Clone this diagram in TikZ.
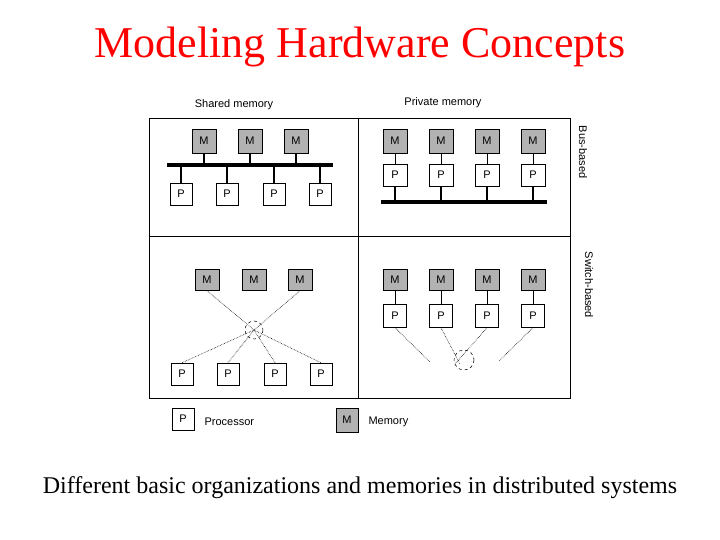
\documentclass[tikz,border=0pt]{standalone}
\usepackage{fontspec}
\setmainfont{Liberation Serif}
\newfontfamily\arial{Liberation Sans}
\begin{document}
\begin{tikzpicture}[x=1pt,y=-1pt,
  mbox/.style={draw=black,fill=gray!60,minimum width=24pt,minimum height=24pt,inner sep=0pt,font=\arial\fontsize{11}{11}\selectfont},
  pbox/.style={draw=black,fill=white,minimum width=22pt,minimum height=22pt,inner sep=0pt,font=\arial\fontsize{11}{11}\selectfont},
  lab/.style={font=\arial\fontsize{11}{11}\selectfont},
  bus/.style={line width=3.5pt},
  thin/.style={line width=0.6pt},
  dot/.style={densely dotted,line width=0.6pt}]
\useasboundingbox (0,0) rectangle (720,540);
\node[text=red,font=\fontsize{44}{44}\selectfont] (title) at (360,47) {Modeling Hardware Concepts};
\node[font=\fontsize{24}{24}\selectfont] (cap) at (360,488) {Different basic organizations and memories in distributed systems};
% frame
\draw[thin] (149,118) rectangle (570,398);
\draw[thin] (358,118) -- (358,398);
\draw[thin] (149,236) -- (570,236);
\node[lab] (sh) at (234,105) {Shared memory};
\node[lab] (pr) at (443,103) {Private memory};
\node[lab,rotate=-90] (bb) at (583,152) {Bus-based};
\node[lab,rotate=-90] (sb) at (589,285) {Switch-based};
% top-left
\coordinate (busL) at (167,165); \coordinate (busR) at (333,165);
\draw[bus] (busL) -- (busR);
\foreach \i/\x in {1/204,2/250,3/296}{
  \node[mbox] (tlm\i) at (\x,141) {M};
  \draw[bus,line width=2.5pt] (tlm\i.south) -- (\x,165);}
\foreach \i/\x in {1/181,2/227,3/274,4/320}{
  \node[pbox] (tlp\i) at (\x,194) {P};
  \draw[bus,line width=2.5pt] (tlp\i.north) -- (\x,165);}
% top-right
\draw[bus] (381,202) -- (547,202);
\foreach \i/\x in {1/395,2/441,3/487,4/533}{
  \node[mbox] (trm\i) at (\x,141) {M};
  \node[pbox,minimum width=24pt] (trp\i) at (\x,175) {P};
  \draw[thin] (trm\i.south) -- (trp\i.north);
  \draw[bus,line width=2.5pt] (trp\i.south) -- (\x,202);}
% bottom-left
\foreach \i/\x in {1/207,2/254,3/300}{\node[mbox,minimum height=21pt] (blm\i) at (\x,280) {M};}
\foreach \i/\x in {1/182,2/228,3/275,4/321}{\node[pbox] (blp\i) at (\x,374) {P};}
\coordinate (cx) at (254,330);
\draw[dot] (blm1.south) -- (cx); \draw[dot] (blm3.south) -- (cx);
\foreach \i in {1,...,4}{\draw[dot] (cx) -- (blp\i.north);}
\draw[dashed,line width=0.5pt] (cx) circle (9);
% bottom-right
\foreach \i/\x in {1/395,2/441,3/487,4/533}{
  \node[mbox,minimum height=21pt] (brm\i) at (\x,280) {M};
  \node[pbox,minimum width=23pt,minimum height=23pt] (brp\i) at (\x,316) {P};
  \draw[thin] (brm\i.south) -- (brp\i.north);}
\coordinate (s1) at (430,362); \coordinate (s2) at (460,364);
\coordinate (s3) at (455,364); \coordinate (s4) at (499,361);
\draw[dot] (brp1.south) -- (s1); \draw[dot] (brp2.south) -- (s2);
\draw[dot] (brp3.south) -- (s3); \draw[dot] (brp4.south) -- (s4);
\draw[dashed,line width=0.5pt] (464,360) circle (10);
% legend
\node[pbox] (lp) at (183,419) {P};
\node[lab,anchor=west] (lpt) at (201,422) {Processor};
\node[mbox,minimum width=22pt] (lm) at (347,420) {M};
\node[lab,anchor=west] (lmt) at (365,422) {Memory};
\end{tikzpicture}
\end{document}
